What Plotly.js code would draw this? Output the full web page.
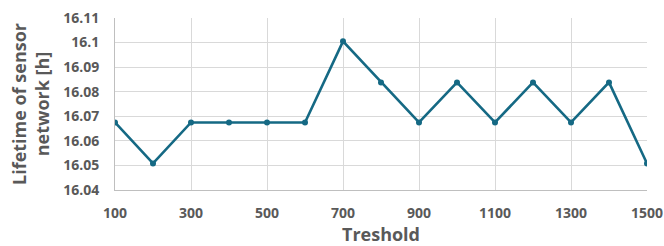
<!DOCTYPE html>
<html><head><meta charset="utf-8">
<script src="https://cdn.plot.ly/plotly-3.0.1.min.js"></script>
<style>html,body{margin:0;padding:0;background:#fff}#chart{width:664px;height:246px}</style>
</head><body><div id="chart"></div>
<script>
const thresholds = [100,200,300,400,500,600,700,800,900,1000,1100,1200,1300,1400,1500];
const lifetime = [16.0675,16.0508,16.0675,16.0675,16.0675,16.0675,16.1005,16.0838,16.0675,16.0838,16.0675,16.0838,16.0675,16.0838,16.0508];
const xTicks = [100,300,500,700,900,1100,1300,1500];
const yTicks = [16.04,16.05,16.06,16.07,16.08,16.09,16.1,16.11];
const yTickLabels = ['16.04','16.05','16.06','16.07','16.08','16.09','16.1','16.11'];

const font = {family:'"Open Sans", "Liberation Sans", sans-serif', color:'#595959'};
Plotly.newPlot('chart', [{
  x: thresholds, y: lifetime, type:'scatter', mode:'lines+markers',
  line:{color:'#156984', width:2.6}, marker:{color:'#156984', size:6}
}], {
  width:664, height:246,
  margin:{l:115, r:17, t:18, b:56},
  paper_bgcolor:'#fff', plot_bgcolor:'#fff',
  showlegend:false,
  xaxis:{range:[100,1500], tickvals:xTicks, ticktext:xTicks.map(String),
    showgrid:true, gridcolor:'#d9d9d9', gridwidth:1, zeroline:false,
    showline:true, linecolor:'#bfbfbf', linewidth:1, ticks:'',
    tickfont:{...font, size:14, weight:'bold'}, ticklen:0, ticklabelstandoff:10,
    title:{text:'Treshold', font:{...font, size:18, weight:'bold'}, standoff:6}},
  yaxis:{range:[16.04,16.11], tickvals:yTicks, ticktext:yTickLabels,
    showgrid:true, gridcolor:'#d9d9d9', gridwidth:1, zeroline:false,
    showline:true, linecolor:'#bfbfbf', linewidth:1, ticks:'',
    tickfont:{...font, size:14, weight:'bold'}, ticklabelstandoff:12,
    title:{text:'Lifetime of sensor<br>network [h]', font:{...font, size:18, weight:'bold'}, standoff:8}}
}, {staticPlot:true});
</script></body></html>
